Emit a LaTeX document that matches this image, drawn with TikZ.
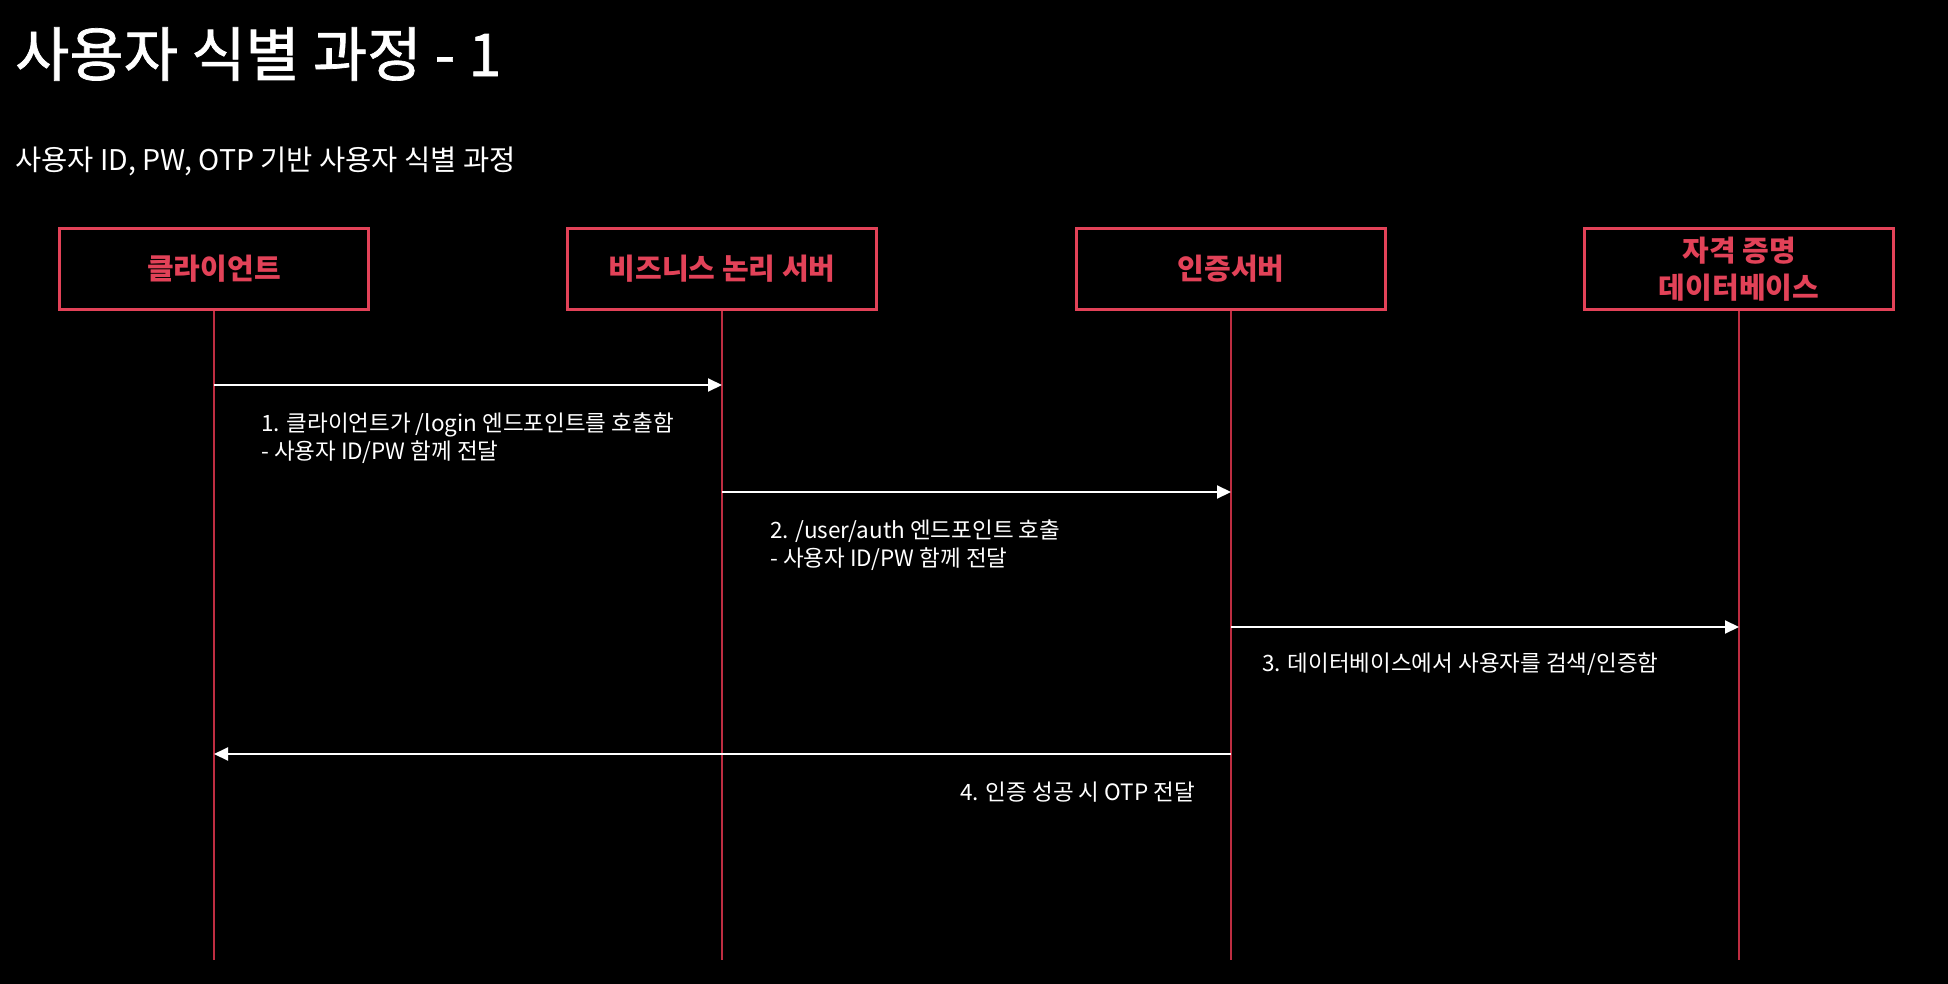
\documentclass[tikz,border=0pt]{standalone}
\usepackage{fontspec}
\setmainfont{Noto Sans CJK KR}
\newfontfamily\titlefont[FakeBold=1.2]{Noto Sans CJK KR}
\usepackage{tikz}
\usetikzlibrary{arrows.meta}
\definecolor{boxred}{RGB}{226,66,88}
\definecolor{linered}{RGB}{190,45,65}
\tikzstyle{actor}=[draw=boxred,line width=3pt,minimum width=309pt,minimum height=81pt,inner sep=0pt,text=boxred,font=\fontsize{29}{37}\selectfont\bfseries,align=center]
\tikzstyle{lifeline}=[draw=linered,line width=1.5pt]
\tikzstyle{msg}=[draw=white,line width=2pt,-{Triangle[length=14pt,width=13pt]}]
\tikzstyle{note}=[text=white,font=\fontsize{22.5}{28.5}\selectfont,align=left,inner sep=0pt]

\begin{document}
\begin{tikzpicture}[x=1pt,y=-1pt]
    \path[fill=black,use as bounding box] (0,0) rectangle (1948,984);
    \node[text=white,font=\titlefont\fontsize{59}{62}\selectfont,anchor=west,inner sep=0pt] (title) at (15,54) {사용자 식별 과정 - 1};
    \node[text=white,font=\fontsize{28.5}{32}\selectfont,anchor=west,inner sep=0pt] (subtitle) at (15,161) {사용자 ID, PW, OTP 기반 사용자 식별 과정};
    % participants
    \node[actor] (client) at (214,269) {클라이언트};
    \node[actor] (biz)    at (722,269) {비즈니스 논리 서버};
    \node[actor] (auth)   at (1231,269) {인증서버};
    \node[actor] (db)     at (1739,269) {자격 증명\\데이터베이스};
    \coordinate (clientEnd) at (214,960);
    \coordinate (bizEnd)    at (722,960);
    \coordinate (authEnd)   at (1231,960);
    \coordinate (dbEnd)     at (1739,960);
    \draw[lifeline] (client) -- (clientEnd);
    \draw[lifeline] (biz) -- (bizEnd);
    \draw[lifeline] (auth) -- (authEnd);
    \draw[lifeline] (db) -- (dbEnd);
    % messages
    \coordinate (m1a) at (214,385);  \coordinate (m1b) at (722,385);
    \coordinate (m2a) at (722,492);  \coordinate (m2b) at (1231,492);
    \coordinate (m3a) at (1231,627); \coordinate (m3b) at (1739,627);
    \coordinate (m4a) at (1231,754); \coordinate (m4b) at (214,754);
    \draw[msg] (m1a) -- (m1b);
    \draw[msg] (m2a) -- (m2b);
    \draw[msg] (m3a) -- (m3b);
    \draw[msg] (m4a) -- (m4b);
    \node[note,anchor=west] (n1) at (261,438) {1. 클라이언트가 /login 엔드포인트를 호출함\\- 사용자 ID/PW 함께 전달};
    \node[note,anchor=west] (n2) at (770,545) {2. /user/auth 엔드포인트 호출\\- 사용자 ID/PW 함께 전달};
    \node[note,anchor=west] (n3) at (1262,664) {3. 데이터베이스에서 사용자를 검색/인증함};
    \node[note,anchor=east] (n4) at (1195,792) {4. 인증 성공 시 OTP 전달};
\end{tikzpicture}
\end{document}
